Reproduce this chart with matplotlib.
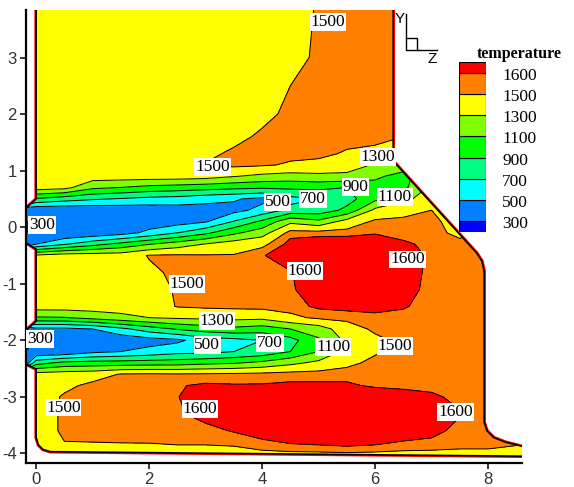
import numpy as np
import matplotlib
matplotlib.use("Agg")
import matplotlib.pyplot as plt
from matplotlib.patches import Polygon
from matplotlib.lines import Line2D

plt.rcParams['axes.unicode_minus'] = False
plt.rcParams['font.family'] = ['Liberation Sans', 'DejaVu Sans']

# contour levels and band colours (tecplot style legend)
levels = [300, 500, 700, 900, 1100, 1300, 1500, 1600]
band_colors = ['#0000ff', '#0080ff', '#00ffff', '#00ff80', '#00ff00',
               '#80ff00', '#ffff00', '#ff8000', '#ff0000']

# temperature on a coarse grid
x_cols = [-0.2, 0.0, 0.5, 1.0, 1.5, 2.0, 2.5, 3.0, 3.5, 4.0, 4.5, 5.0, 5.5,
          6.0, 6.5, 7.0, 7.5, 8.0, 8.6]
y_rows = [3.9, 3.0, 2.5, 2.0, 1.6, 1.3, 1.1, 0.9, 0.7, 0.5, 0.3, 0.1, -0.1,
          -0.3, -0.5, -0.8, -1.1, -1.4, -1.6, -1.8, -2.0, -2.2, -2.4, -2.6,
          -2.8, -3.0, -3.3, -3.6, -3.85, -4.1]

# one list per column (x), values top -> bottom (y_rows)
temp_cols = [
    [1400, 1400, 1400, 1400, 1400, 1400, 1400, 1400, 1400, 1100, 320, 300, 300, 330, 1200,
     1400, 1400, 1400, 1300, 330, 300, 300, 340, 1250, 1400, 1400, 1400, 1400, 1400, 1400],
    [1400, 1400, 1400, 1400, 1400, 1400, 1400, 1400, 1400, 880, 320, 300, 300, 500, 1330,
     1400, 1400, 1400, 1080, 450, 300, 310, 820, 1380, 1400, 1400, 1400, 1400, 1400, 1400],
    [1400, 1400, 1400, 1400, 1400, 1400, 1400, 1400, 1360, 790, 330, 310, 320, 680, 1400,
     1400, 1400, 1400, 1090, 450, 310, 330, 960, 1400, 1460, 1520, 1530, 1530, 1490, 1400],
    [1400, 1400, 1400, 1400, 1400, 1400, 1400, 1400, 1140, 725, 340, 330, 350, 830, 1400,
     1400, 1400, 1400, 1170, 500, 330, 450, 980, 1420, 1540, 1550, 1550, 1540, 1490, 1400],
    [1400, 1400, 1400, 1400, 1400, 1400, 1400, 1400, 1095, 685, 360, 350, 420, 960, 1400,
     1420, 1420, 1400, 1240, 650, 360, 500, 985, 1510, 1560, 1570, 1580, 1560, 1490, 1400],
    [1400, 1400, 1400, 1400, 1400, 1400, 1400, 1400, 1040, 640, 380, 390, 550, 1090, 1510,
     1470, 1420, 1400, 1300, 800, 420, 560, 1000, 1520, 1580, 1590, 1590, 1570, 1490, 1400],
    [1400, 1400, 1400, 1400, 1400, 1420, 1420, 1400, 1010, 620, 400, 410, 700, 1200, 1520,
     1530, 1520, 1510, 1330, 920, 460, 630, 1010, 1510, 1590, 1595, 1580, 1570, 1500, 1400],
    [1400, 1400, 1400, 1400, 1420, 1460, 1510, 1380, 980, 560, 420, 480, 855, 1310, 1510,
     1550, 1550, 1530, 1340, 1000, 600, 640, 1050, 1520, 1620, 1680, 1650, 1560, 1500, 1400],
    [1400, 1400, 1400, 1400, 1450, 1530, 1540, 1310, 950, 520, 440, 710, 1060, 1400, 1510,
     1560, 1570, 1540, 1360, 1050, 640, 700, 1080, 1530, 1610, 1690, 1700, 1610, 1510, 1400],
    [1400, 1400, 1400, 1450, 1530, 1550, 1520, 1250, 930, 450, 560, 940, 1210, 1460, 1590,
     1580, 1570, 1550, 1350, 1000, 700, 760, 1150, 1540, 1610, 1700, 1720, 1660, 1560, 1400],
    [1400, 1420, 1500, 1540, 1550, 1540, 1480, 1220, 940, 640, 760, 1250, 1560, 1640, 1680,
     1590, 1580, 1560, 1460, 1100, 830, 900, 1250, 1560, 1620, 1720, 1730, 1700, 1590, 1400],
    [1520, 1540, 1550, 1560, 1560, 1540, 1450, 1250, 950, 700, 780, 1150, 1560, 1680, 1720,
     1700, 1690, 1620, 1530, 1200, 1070, 1100, 1350, 1560, 1620, 1730, 1740, 1710, 1600, 1400],
    [1550, 1560, 1570, 1570, 1560, 1480, 1400, 1250, 900, 820, 950, 1380, 1560, 1690, 1720,
     1710, 1700, 1640, 1540, 1420, 1350, 1360, 1460, 1560, 1620, 1720, 1740, 1720, 1620, 1400],
    [1560, 1560, 1560, 1560, 1560, 1440, 1280, 1150, 1000, 1050, 1350, 1530, 1590, 1680, 1720,
     1710, 1690, 1640, 1570, 1530, 1460, 1480, 1540, 1560, 1580, 1700, 1740, 1700, 1600, 1400],
    [1560, 1560, 1560, 1560, 1500, 1440, 1250, 1000, 1050, 1250, 1450, 1530, 1560, 1620, 1660,
     1660, 1640, 1610, 1570, 1550, 1540, 1550, 1560, 1570, 1580, 1640, 1720, 1680, 1570, 1400],
    [1560, 1560, 1560, 1560, 1560, 1560, 1560, 1350, 1350, 1400, 1500, 1550, 1560, 1570, 1580,
     1570, 1570, 1560, 1560, 1560, 1560, 1560, 1560, 1560, 1570, 1620, 1700, 1640, 1560, 1400],
    [1560, 1560, 1560, 1560, 1560, 1560, 1560, 1450, 1400, 1400, 1400, 1400, 1450, 1550, 1560,
     1560, 1560, 1560, 1560, 1560, 1560, 1560, 1560, 1560, 1560, 1570, 1610, 1560, 1540, 1400],
    [1560, 1560, 1560, 1560, 1560, 1560, 1560, 1560, 1560, 1560, 1560, 1560, 1560, 1560, 1560,
     1560, 1560, 1560, 1560, 1560, 1560, 1560, 1560, 1560, 1560, 1560, 1560, 1560, 1540, 1400],
    [1560, 1560, 1560, 1560, 1560, 1560, 1560, 1560, 1560, 1560, 1560, 1560, 1560, 1560, 1560,
     1560, 1560, 1560, 1560, 1560, 1560, 1560, 1560, 1560, 1560, 1560, 1560, 1560, 1500, 1400],
]

# outline of the combustor (two inlets on the left, outlet step on the right)
wall_x = [0.0, 0.0, -0.22, -0.22, 0.0, 0.0, -0.22, -0.22, 0.0, 0.0, 0.04, 0.12, 0.25,
          8.62, 8.62, 8.3, 8.1, 7.98, 7.93, 7.93, 7.89, 7.8, 6.32, 6.32]
wall_y = [3.95, 0.5, 0.3, -0.25, -0.39, -1.66, -1.86, -2.4, -2.51, -3.72, -3.85, -3.93, -3.97,
          -4.05, -3.88, -3.8, -3.72, -3.6, -3.45, -0.78, -0.6, -0.46, 1.17, 3.95]

# contour labels: (x, y, level)
label_at = [(5.17, 3.63, 1500), (3.12, 1.06, 1500), (6.05, 1.24, 1300), (5.65, 0.71, 900),
            (4.9, 0.5, 700), (4.27, 0.44, 500), (6.35, 0.53, 1100), (0.1, 0.04, 300),
            (2.67, -1.0, 1500), (4.76, -0.78, 1600), (6.57, -0.57, 1600), (3.2, -1.66, 1300),
            (0.07, -1.98, 300), (3.03, -2.09, 500), (4.14, -2.05, 700), (5.26, -2.12, 1100),
            (6.35, -2.1, 1500), (0.48, -3.19, 1500), (2.9, -3.22, 1600), (7.42, -3.27, 1600)]

W, H = 574, 487
fig = plt.figure(figsize=(W / 100, H / 100), dpi=100)
ax = fig.add_axes([26 / W, 24 / H, 496 / W, 453 / H])

X, Y = np.meshgrid(x_cols, y_rows)
Z = np.array(temp_cols).T

outline = np.column_stack([wall_x, wall_y])
dom = Polygon(outline, closed=True, facecolor='none', edgecolor='none')
ax.add_patch(dom)

# red wall line underneath, fill covers its inner half
ax.add_patch(Polygon(outline, closed=True, fill=False, edgecolor='red', lw=2.6, zorder=0.5))
cf = ax.contourf(X, Y, Z, levels=[0] + levels + [3000], colors=band_colors, zorder=1)
cf.set_clip_path(dom)
cs = ax.contour(X, Y, Z, levels=levels, colors='black', linewidths=0.7, zorder=2)
cs.set_clip_path(dom)
ax.add_patch(Polygon(outline, closed=True, fill=False, edgecolor='black', lw=1.2, zorder=3))

for lx, ly, lev in label_at:
    ax.text(lx, ly, str(lev), ha='center', va='center', fontsize=12.5,
            family='Liberation Serif', zorder=5,
            bbox=dict(facecolor='white', edgecolor='none', pad=0.6))

ax.set_xlim(-0.18, 8.6)
ax.set_ylim(-4.17, 3.84)
ax.set_xticks([0, 2, 4, 6, 8])
ax.set_yticks(range(-4, 4))
for s in ['top', 'right']:
    ax.spines[s].set_visible(False)
for s in ['left', 'bottom']:
    ax.spines[s].set_linewidth(1.6)
ax.tick_params(direction='out', length=4.5, width=1.1, labelsize=12, labelcolor='#333333',
               pad=2)

# legend boxes
lax = fig.add_axes([459 / W, 1 - 232 / H, 27 / W, 170 / H])
heights = [0.5] + [1] * (len(band_colors) - 2) + [0.5]
bottoms = np.concatenate([[0], np.cumsum(heights)[:-1]])
lax.bar(0.5, heights, bottom=bottoms, width=1, color=band_colors, edgecolor='black', linewidth=0.8)
lax.set_xlim(0, 1)
lax.set_ylim(0, sum(heights))
lax.axis('off')
for i, lev in enumerate(levels):
    lax.text(1.6, bottoms[i + 1] - 0.14, str(lev), ha='left', va='center', fontsize=12.5,
             family='Liberation Serif', transform=lax.transData, clip_on=False)
fig.text(519 / W, 1 - 54 / H, 'temperature', ha='center', va='center', fontsize=11.5,
         fontweight='bold', family='Liberation Serif')

# Y-Z axis triad
def fl(xs, ys):
    fig.add_artist(Line2D([x / W for x in xs], [1 - y / H for y in ys], color='black',
                          lw=1.0, transform=fig.transFigure))

fl([406, 406, 437], [14, 50, 50])
fl([406, 417, 417], [38, 38, 50])
fig.text(400 / W, 1 - 19 / H, 'Y', ha='center', va='center', fontsize=11)
fig.text(432 / W, 1 - 59 / H, 'Z', ha='center', va='center', fontsize=11)

fig.savefig('out.png', dpi=100)
